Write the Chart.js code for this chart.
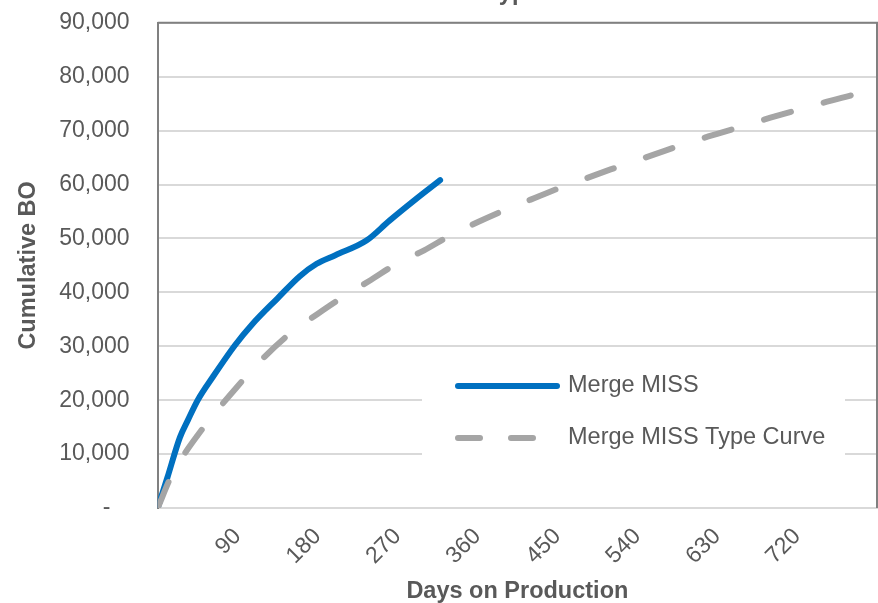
<!DOCTYPE html>
<html>
<head>
<meta charset="utf-8">
<script src="https://cdn.jsdelivr.net/npm/chart.js@4"></script>
<style>
  html, body { margin: 0; padding: 0; background: #fff; }
  #wrap { position: relative; width: 878px; height: 603px; }
</style>
</head>
<body>
<div id="wrap"><canvas id="grafico" width="878" height="603"></canvas></div>
<script>
// datos
const tituloGrafico = 'MISS Type Curve';
const diasReal = [0, 11, 25, 34, 45, 62, 87, 106, 135, 160, 179, 200, 235, 261, 290, 318];
const boReal = [0, 5700, 13100, 16300, 20000, 24300, 30200, 34000, 38900, 43000, 45300, 46900, 49600, 53300, 57200, 60800];
const diasTipo = [0, 15, 30, 45, 60, 90, 120, 150, 180, 210, 240, 270, 300, 330, 360, 390, 420, 450, 480, 510, 540, 570, 600, 630, 660, 690, 720, 750, 780, 810];
const boTipo = [0, 5800, 10000, 13500, 16700, 22600, 28000, 32500, 36000, 39300, 42300, 45400, 47800, 50600, 53000, 55200, 57200, 59200, 61000, 62800, 64500, 66200, 67900, 69400, 70900, 72400, 73800, 75200, 76500, 77800];
const ticksDias = [90, 180, 270, 360, 450, 540, 630, 720];

const fuente = '"Liberation Sans", Arial, sans-serif';
const gris = '#595959';

function aPuntos(xs, ys) {
    return xs.map((x, i) => ({ x: x, y: ys[i] }));
}

// borde superior y derecho del area del grafico + leyenda dentro
const bordeYLeyenda = {
    id: 'bordeYLeyenda',
    beforeDatasetsDraw(chart) {
        const ctx = chart.ctx;
        const a = chart.chartArea;
        ctx.save();
        ctx.strokeStyle = '#808080';
        ctx.lineWidth = 2;
        ctx.beginPath();
        ctx.moveTo(a.left, a.top);
        ctx.lineTo(a.right, a.top);
        ctx.lineTo(a.right, a.bottom);
        ctx.stroke();

        ctx.fillStyle = '#fff';
        ctx.fillRect(422, 362, 423, 106);
        chart.data.datasets.forEach((ds, i) => {
            const y = 386 + i * 52;
            ctx.beginPath();
            ctx.strokeStyle = ds.borderColor;
            ctx.lineWidth = ds.borderWidth;
            ctx.lineCap = 'round';
            ctx.setLineDash(ds.borderDash ? [22, 31] : []);
            ctx.moveTo(458, y);
            ctx.lineTo(ds.borderDash ? 534 : 557, y);
            ctx.stroke();
            ctx.setLineDash([]);
            ctx.fillStyle = gris;
            ctx.font = '23.5px ' + fuente;
            ctx.textBaseline = 'middle';
            ctx.textAlign = 'left';
            ctx.fillText(ds.label, 568, y);
        });
        ctx.restore();
    },
    afterDraw(chart) {
        // titulo cortado arriba, como en la imagen
        const ctx = chart.ctx;
        const a = chart.chartArea;
        ctx.save();
        ctx.fillStyle = gris;
        ctx.font = 'bold 23.5px ' + fuente;
        ctx.textAlign = 'center';
        ctx.textBaseline = 'alphabetic';
        ctx.fillText(tituloGrafico, (a.left + a.right) / 2, 0);
        ctx.restore();
    }
};

const ctx = document.getElementById('grafico').getContext('2d');

let chart = new Chart(ctx, {
    type: 'line',
    data: {
        datasets: [{
            label: 'Merge MISS',
            data: aPuntos(diasReal, boReal),
            borderColor: '#0070C0',
            borderWidth: 6,
            borderCapStyle: 'round',
            borderJoinStyle: 'round',
            pointRadius: 0,
            cubicInterpolationMode: 'monotone',
            order: 1
        }, {
            label: 'Merge MISS Type Curve',
            data: aPuntos(diasTipo, boTipo),
            borderColor: '#A5A5A5',
            borderWidth: 6,
            borderDash: [28, 34],
            borderCapStyle: 'round',
            pointRadius: 0,
            cubicInterpolationMode: 'monotone',
            order: 0
        }]
    },
    options: {
        responsive: false,
        animation: false,
        layout: { padding: { top: 0, right: 1, left: 10, bottom: 0 } },
        plugins: {
            legend: { display: false },
            tooltip: { enabled: false }
        },
        scales: {
            x: {
                type: 'linear',
                min: 0,
                max: 810,
                afterBuildTicks: (s) => { s.ticks = ticksDias.map(v => ({ value: v })); },
                afterFit: (s) => { s.height = 95; },
                grid: { display: false, drawTicks: false },
                border: { display: true, color: '#D9D9D9', width: 2 },
                ticks: {
                    autoSkip: false,
                    minRotation: 45,
                    maxRotation: 45,
                    padding: 15,
                    color: gris,
                    font: { family: fuente, size: 23 }
                },
                title: {
                    display: true,
                    text: 'Days on Production',
                    color: gris,
                    font: { family: fuente, size: 23.5, weight: 'bold' },
                    padding: { top: 0, bottom: -3 }
                }
            },
            y: {
                min: 0,
                max: 90000,
                grid: { color: '#D9D9D9', lineWidth: 2, drawTicks: false },
                border: { display: true, color: '#808080', width: 2 },
                ticks: {
                    stepSize: 10000,
                    padding: 9,
                    color: gris,
                    font: { family: fuente, size: 23 },
                    callback: (v) => v === 0 ? '-      ' : v.toLocaleString('en-US') + '   '
                },
                title: {
                    display: true,
                    text: 'Cumulative BO',
                    color: gris,
                    font: { family: fuente, size: 23.5, weight: 'bold' },
                    padding: { top: 4, bottom: 8 }
                }
            }
        }
    },
    plugins: [bordeYLeyenda]
});
</script>
</body>
</html>
